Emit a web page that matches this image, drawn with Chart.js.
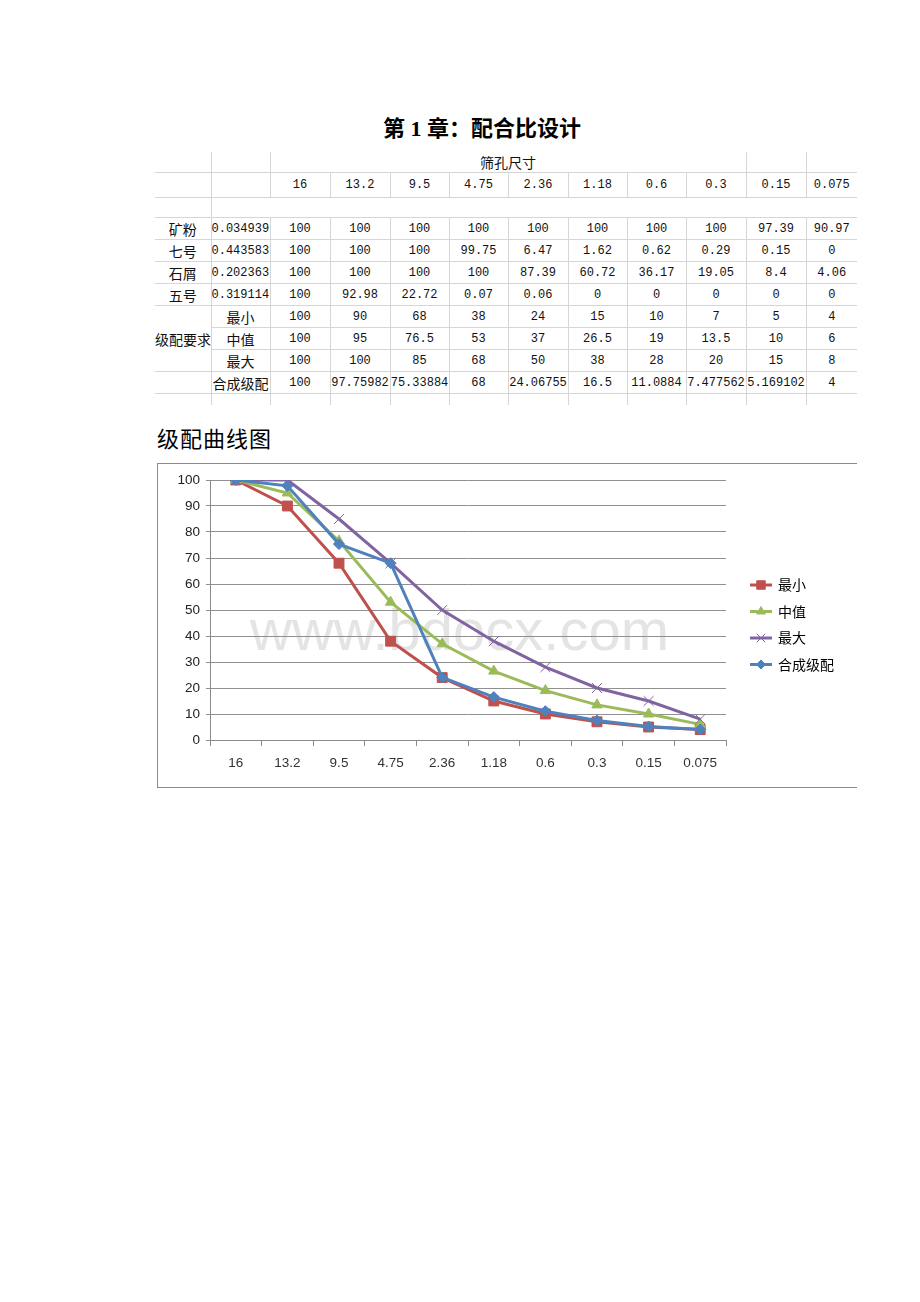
<!DOCTYPE html>
<html lang="zh">
<head>
    <meta charset="UTF-8">
    <title>配合比设计 级配曲线图</title>
    <script src="https://cdn.jsdelivr.net/npm/chart.js"></script>
    <style>
        body {
            margin: 0;
            width: 920px;
            height: 1302px;
            background: #fff;
            position: relative;
            font-family: "Liberation Serif", "Noto Sans CJK SC", serif;
        }

        #title {
            position: absolute;
            left: 0;
            width: 964px;
            top: 110px;
            text-align: center;
            font-size: 22px;
            font-weight: bold;
        }

        #gradTable {
            position: absolute;
            left: 155px;
            top: 152px;
            border-collapse: collapse;
            table-layout: fixed;
            font-family: "Liberation Mono", "Noto Sans CJK SC", monospace;
            font-size: 12px;
            color: #111;
        }

        #gradTable td {
            padding: 0;
            text-align: center;
            white-space: nowrap;
            overflow: hidden;
            border-top: 1px solid #d6d6d6;
            border-left: 1px solid #d6d6d6;
            height: 21px;
        }

        #gradTable td.name {
            font-family: "Noto Sans CJK SC", sans-serif;
            font-size: 14px;
        }

        #subtitle {
            position: absolute;
            left: 157px;
            top: 421px;
            font-family: "Noto Sans CJK SC", sans-serif;
            font-size: 22px;
            letter-spacing: 1px;
        }

        #chartBox {
            position: absolute;
            left: 157px;
            top: 463px;
            width: 700px;
            height: 325px;
            border-top: 1px solid #8a8a8a;
            border-left: 1px solid #8a8a8a;
            border-bottom: 1px solid #8a8a8a;
            box-sizing: border-box;
        }

        #watermark {
            position: absolute;
            left: 92px;
            top: 132px;
            font-family: "Liberation Sans", sans-serif;
            font-size: 58px;
            color: #e4e4e4;
        }

        #gradChart {
            position: absolute;
            left: -1px;
            top: -1px;
        }
    </style>
</head>
<body>
    <div id="title">第 1 章：配合比设计</div>
    <table id="gradTable"></table>
    <div id="subtitle">级配曲线图</div>
    <div id="chartBox">
        <div id="watermark">www.bdocx.com</div>
        <canvas id="gradChart" width="700" height="325"></canvas>
    </div>

    <script>
        // 筛孔尺寸
        const sieveSizes = ['16', '13.2', '9.5', '4.75', '2.36', '1.18', '0.6', '0.3', '0.15', '0.075'];

        // 各档材料
        const materialNames = ['矿粉', '七号', '石屑', '五号'];
        const materialRatios = ['0.034939', '0.443583', '0.202363', '0.319114'];
        const powderPass = [100, 100, 100, 100, 100, 100, 100, 100, 97.39, 90.97];
        const no7Pass = [100, 100, 100, 99.75, 6.47, 1.62, 0.62, 0.29, 0.15, 0];
        const chipsPass = [100, 100, 100, 100, 87.39, 60.72, 36.17, 19.05, 8.4, 4.06];
        const no5Pass = [100, 92.98, 22.72, 0.07, 0.06, 0, 0, 0, 0, 0];

        // 级配要求 + 合成级配
        const minGrad = [100, 90, 68, 38, 24, 15, 10, 7, 5, 4];
        const midGrad = [100, 95, 76.5, 53, 37, 26.5, 19, 13.5, 10, 6];
        const maxGrad = [100, 100, 85, 68, 50, 38, 28, 20, 15, 8];
        const blendGrad = [100, 97.75982, 75.33884, 68, 24.06755, 16.5, 11.0884, 7.477562, 5.169102, 4];

        const yTicks = [0, 10, 20, 30, 40, 50, 60, 70, 80, 90, 100];

        /* ---------- 表格 ---------- */
        const colWidths = [56, 59, 60, 60, 59, 59, 60, 59, 59, 60, 60, 51];
        const table = document.getElementById('gradTable');
        const cg = document.createElement('colgroup');
        colWidths.forEach(w => {
            const c = document.createElement('col');
            c.style.width = w + 'px';
            cg.appendChild(c);
        });
        table.appendChild(cg);
        table.style.width = colWidths.reduce((a, b) => a + b, 0) + 'px';

        function addRow(cells, height) {
            const tr = document.createElement('tr');
            cells.forEach(c => {
                const td = document.createElement('td');
                if (c.text !== undefined) td.textContent = c.text;
                if (c.cls) td.className = c.cls;
                if (c.span) td.colSpan = c.span;
                if (c.rows) td.rowSpan = c.rows;
                if (c.noLeft) td.style.borderLeft = 'none';
                if (c.noTop) td.style.borderTop = 'none';
                if (c.align) td.style.textAlign = c.align;
                if (height) td.style.height = height + 'px';
                tr.appendChild(td);
            });
            table.appendChild(tr);
        }

        addRow([
            { noLeft: true, noTop: true }, { noTop: true },
            { text: '筛孔尺寸', cls: 'name', span: 8, noTop: true },
            { noTop: true }, { noTop: true }
        ], 18);
        addRow([{ noLeft: true }, {}].concat(sieveSizes.map(s => ({ text: s }))), 24);
        addRow([{ noLeft: true }, {}].concat(sieveSizes.map(() => ({ noLeft: true }))), 19);

        const materialRows = [powderPass, no7Pass, chipsPass, no5Pass];
        materialRows.forEach((vals, i) => {
            addRow([{ text: materialNames[i], cls: 'name', noLeft: true }, { text: materialRatios[i], align: 'left' }]
                .concat(vals.map(v => ({ text: String(v) }))), 21);
        });

        const reqNames = ['最小', '中值', '最大'];
        [minGrad, midGrad, maxGrad].forEach((vals, i) => {
            const first = i === 0 ? [{ text: '级配要求', cls: 'name', rows: 3, noLeft: true }] : [];
            addRow(first.concat([{ text: reqNames[i], cls: 'name' }])
                .concat(vals.map(v => ({ text: String(v) }))), 21);
        });
        addRow([{ noLeft: true }, { text: '合成级配', cls: 'name' }]
            .concat(blendGrad.map(v => ({ text: String(v) }))), 21);
        addRow([{ noLeft: true }, {}].concat(sieveSizes.map(() => ({}))), 11);

        /* ---------- 图例插件 ---------- */
        const sideLegend = {
            id: 'sideLegend',
            afterDraw(chart) {
                const ctx = chart.ctx;
                const x0 = chart.chartArea.right + 24;
                let y = 122;
                chart.data.datasets.forEach(ds => {
                    ctx.save();
                    ctx.strokeStyle = ds.borderColor;
                    ctx.lineWidth = 3;
                    ctx.beginPath();
                    ctx.moveTo(x0, y);
                    ctx.lineTo(x0 + 22, y);
                    ctx.stroke();
                    ctx.fillStyle = ds.backgroundColor;
                    ctx.strokeStyle = ds.borderColor;
                    ctx.lineWidth = 1;
                    Chart.helpers.drawPoint(ctx, {
                        pointStyle: ds.pointStyle,
                        radius: ds.pointRadius - 1,
                        rotation: 0,
                        borderWidth: 1
                    }, x0 + 11, y);
                    ctx.fillStyle = '#000';
                    ctx.font = '14px "Noto Sans CJK SC"';
                    ctx.textBaseline = 'middle';
                    ctx.fillText(ds.label, x0 + 28, y);
                    ctx.restore();
                    y += 26.5;
                });
            }
        };

        /* ---------- 曲线图 ---------- */
        const ctx = document.getElementById('gradChart').getContext('2d');
        new Chart(ctx, {
            type: 'line',
            data: {
                labels: sieveSizes,
                datasets: [{
                    label: '最小',
                    data: minGrad,
                    borderColor: '#C0504D',
                    backgroundColor: '#C0504D',
                    pointStyle: 'rect',
                    pointRadius: 7,
                    order: 4
                }, {
                    label: '中值',
                    data: midGrad,
                    borderColor: '#9BBB59',
                    backgroundColor: '#9BBB59',
                    pointStyle: 'triangle',
                    pointRadius: 6,
                    order: 3
                }, {
                    label: '最大',
                    data: maxGrad,
                    borderColor: '#8064A2',
                    backgroundColor: '#8064A2',
                    pointStyle: 'crossRot',
                    pointRadius: 7,
                    pointBorderWidth: 1,
                    order: 2
                }, {
                    label: '合成级配',
                    data: blendGrad,
                    borderColor: '#4F81BD',
                    backgroundColor: '#4F81BD',
                    pointStyle: 'rectRot',
                    pointRadius: 5.5,
                    order: 1
                }]
            },
            options: {
                responsive: false,
                animation: false,
                elements: {
                    line: { borderWidth: 3, tension: 0 },
                    point: { borderWidth: 1 }
                },
                layout: {
                    padding: { left: 0, right: 131, top: 17, bottom: 0 }
                },
                plugins: {
                    legend: { display: false },
                    tooltip: { enabled: false }
                },
                scales: {
                    x: {
                        offset: true,
                        grid: {
                            offset: true,
                            drawOnChartArea: false,
                            tickLength: 6,
                            color: '#8a8a8a'
                        },
                        border: { color: '#8a8a8a' },
                        ticks: {
                            padding: 9,
                            maxRotation: 0,
                            color: '#333',
                            font: { family: 'Liberation Sans', size: 13.5 }
                        },
                        afterFit(scale) { scale.height = 48; }
                    },
                    y: {
                        min: 0,
                        max: 100,
                        afterBuildTicks(scale) {
                            scale.ticks = yTicks.map(v => ({ value: v }));
                        },
                        grid: {
                            color: '#909090',
                            tickLength: 4
                        },
                        border: { color: '#8a8a8a' },
                        ticks: {
                            padding: 6,
                            color: '#222',
                            font: { family: 'Liberation Sans', size: 13.5 }
                        },
                        afterFit(scale) { scale.width = 53; }
                    }
                }
            },
            plugins: [sideLegend]
        });
    </script>
</body>
</html>
